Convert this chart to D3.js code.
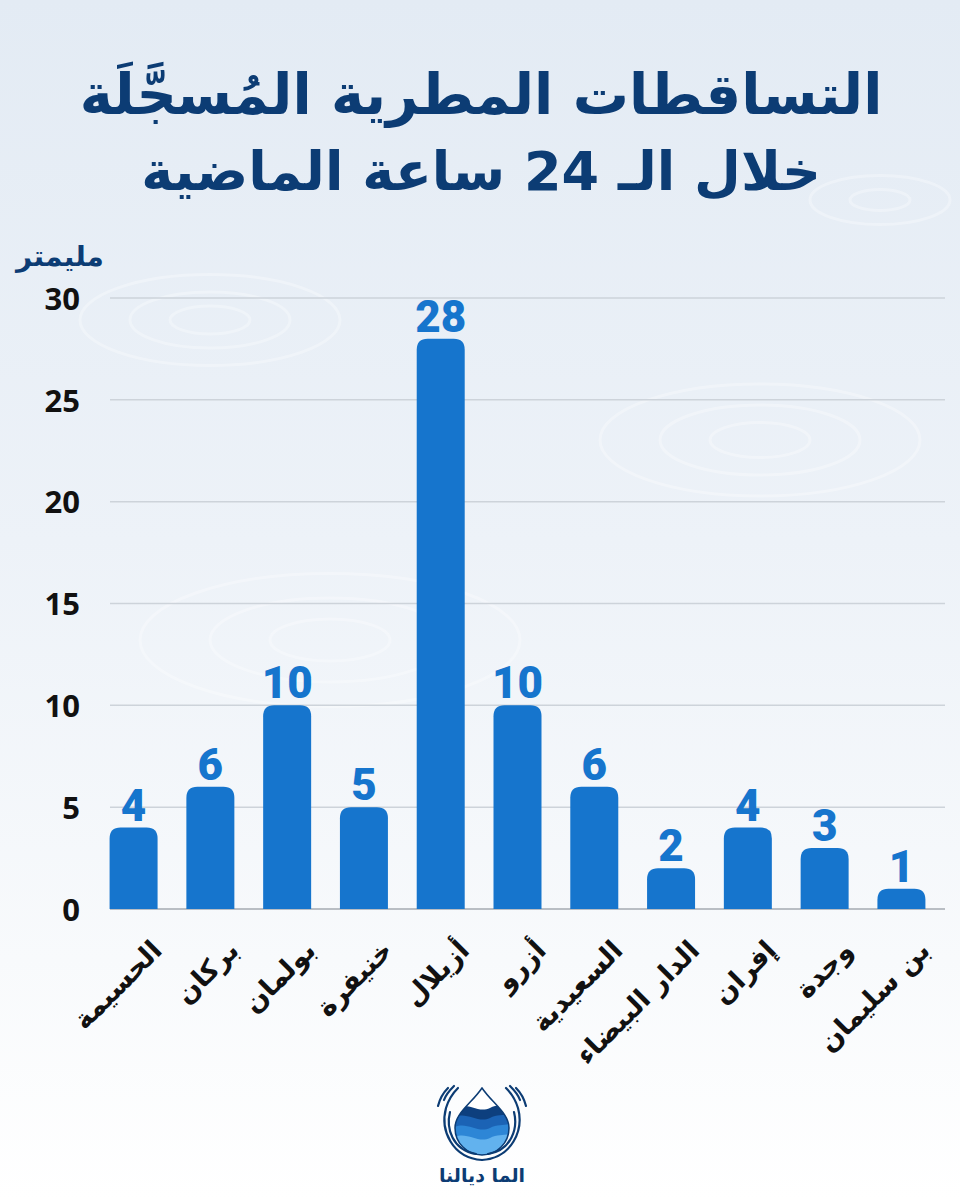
<!DOCTYPE html>
<html lang="ar">
<head>
<meta charset="utf-8">
<script src="https://cdn.jsdelivr.net/npm/d3@7"></script>
<style>
  html, body { margin: 0; padding: 0; background: #ffffff; }
  svg { display: block; }
</style>
</head>
<body>
<div id="chart"></div>
<script>
// rainfall over the last 24 hours, in mm
const cities = ["الحسيمة", "بركان", "بولمان", "خنيفرة", "أزيلال", "أزرو", "السعيدية", "الدار البيضاء", "إفران", "وجدة", "بن سليمان"];
const rainfall = [4, 6, 10, 5, 28, 10, 6, 2, 4, 3, 1];
const yTicks = [0, 5, 10, 15, 20, 25, 30];

const titleLines = ["التساقطات المطرية المُسجَّلَة", "خلال الـ 24 ساعة الماضية"];
const unitLabel = "مليمتر";
const brandName = "الما ديالنا";

window.onload = function() {
    const width = 960;
    const height = 1200;

    const navy = "#0c3c74";
    const barBlue = "#1675cd";

    const svg = d3.select("#chart")
        .append("svg")
        .attr("width", width)
        .attr("height", height);

    const defs = svg.append("defs");

    // background: pale blue fading to white
    const bg = defs.append("linearGradient")
        .attr("id", "bg")
        .attr("x1", 0).attr("y1", 0).attr("x2", 0).attr("y2", 1);
    bg.append("stop").attr("offset", "0%").attr("stop-color", "#e3ebf4");
    bg.append("stop").attr("offset", "45%").attr("stop-color", "#edf2f8");
    bg.append("stop").attr("offset", "80%").attr("stop-color", "#f8fafc");
    bg.append("stop").attr("offset", "100%").attr("stop-color", "#ffffff");

    svg.append("rect")
        .attr("width", width)
        .attr("height", height)
        .attr("fill", "url(#bg)");

    // faint ripples in the water
    const ripples = [
        {cx: 210, cy: 320, rx: [40, 80, 130]},
        {cx: 760, cy: 440, rx: [50, 100, 160]},
        {cx: 330, cy: 640, rx: [60, 120, 190]},
        {cx: 880, cy: 200, rx: [30, 70]}
    ];
    ripples.forEach(r => {
        svg.append("g").selectAll("ellipse")
            .data(r.rx)
            .enter()
            .append("ellipse")
            .attr("cx", r.cx)
            .attr("cy", r.cy)
            .attr("rx", d => d)
            .attr("ry", d => d * 0.35)
            .attr("fill", "none")
            .attr("stroke", "#ffffff")
            .attr("stroke-width", 3)
            .attr("opacity", 0.3);
    });

    // title
    svg.append("g")
        .selectAll("text")
        .data(titleLines)
        .enter()
        .append("text")
        .attr("x", 481)
        .attr("y", (d, i) => 114 + i * 76)
        .attr("text-anchor", "middle")
        .attr("font-family", "DejaVu Sans")
        .attr("font-weight", "bold")
        .attr("font-size", (d, i) => i === 0 ? 56 : 54)
        .attr("fill", navy)
        .text(d => d);

    // scales
    const x = d3.scaleBand()
        .domain(cities)
        .range([95, 940])
        .paddingInner(0.375)
        .paddingOuter(0.19);

    const y = d3.scaleLinear()
        .domain([0, 30])
        .range([909, 298]);

    // grid lines
    svg.append("g")
        .selectAll("line")
        .data(yTicks)
        .enter()
        .append("line")
        .attr("x1", 110)
        .attr("x2", 945)
        .attr("y1", d => y(d))
        .attr("y2", d => y(d))
        .attr("stroke", d => d === 0 ? "#b9bec4" : "#cdd3da")
        .attr("stroke-width", d => d === 0 ? 2 : 1.5);

    // y axis labels
    const yAxis = d3.axisLeft(y)
        .tickValues(yTicks)
        .tickSize(0)
        .tickPadding(0);
    const yG = svg.append("g")
        .attr("transform", "translate(80,0)")
        .call(yAxis);
    yG.select(".domain").remove();
    yG.selectAll("text")
        .attr("font-family", "Open Sans")
        .attr("font-weight", "bold")
        .attr("font-size", 31)
        .attr("fill", "#111111")
        .attr("dy", "0.36em");

    // unit label
    svg.append("text")
        .attr("x", 60)
        .attr("y", 266)
        .attr("text-anchor", "middle")
        .attr("font-family", "DejaVu Sans")
        .attr("font-weight", "bold")
        .attr("font-size", 28)
        .attr("fill", navy)
        .text(unitLabel);

    // bars with rounded tops
    const r = 11;
    function barPath(d, i) {
        const x0 = x(cities[i]);
        const w = x.bandwidth();
        const y0 = y(0);
        const y1 = y(d);
        const rr = Math.min(r, (y0 - y1));
        return `M${x0},${y0} V${y1 + rr} Q${x0},${y1} ${x0 + rr},${y1} H${x0 + w - rr} Q${x0 + w},${y1} ${x0 + w},${y1 + rr} V${y0} Z`;
    }

    svg.append("g")
        .selectAll("path")
        .data(rainfall)
        .enter()
        .append("path")
        .attr("d", barPath)
        .attr("fill", barBlue);

    // value labels
    svg.append("g")
        .selectAll("text")
        .data(rainfall)
        .enter()
        .append("text")
        .attr("x", (d, i) => x(cities[i]) + x.bandwidth() / 2)
        .attr("y", d => y(d) - 7)
        .attr("text-anchor", "middle")
        .attr("font-family", "Roboto")
        .attr("font-weight", "900")
        .attr("font-size", 44)
        .attr("fill", barBlue)
        .text(d => d);

    // city names, rotated
    svg.append("g")
        .selectAll("text")
        .data(cities)
        .enter()
        .append("text")
        .attr("transform", d => `translate(${x(d) + x.bandwidth() / 2 + 30},952) rotate(-45)`)
        .attr("text-anchor", "end")
        .attr("font-family", "DejaVu Sans")
        .attr("font-weight", "bold")
        .attr("font-size", 27)
        .attr("fill", "#111111")
        .text(d => d);

    // logo: a water drop held by two hands
    const logo = svg.append("g").attr("transform", "translate(482,0)");
    const dropPath = "M0,1088 C-10,1103 -27,1113 -27,1128 A27,27 0 0 0 27,1128 C27,1113 10,1103 0,1088 Z";
    defs.append("clipPath").attr("id", "dropClip")
        .append("path").attr("d", dropPath);

    const waves = logo.append("g").attr("clip-path", "url(#dropClip)");
    waves.append("rect")
        .attr("x", -30).attr("y", 1085).attr("width", 60).attr("height", 75)
        .attr("fill", "#ffffff");
    const waveColors = ["#0d3f7e", "#1b63b5", "#2d86d6", "#62b2ee"];
    waves.selectAll("path")
        .data(waveColors)
        .enter()
        .append("path")
        .attr("d", (c, i) => {
            const yy = 1108 + i * 10;
            return `M-30,${yy} C-15,${yy - 8} -5,${yy + 6} 8,${yy} C16,${yy - 4} 24,${yy - 2} 30,${yy - 5} V1160 H-30 Z`;
        })
        .attr("fill", d => d);

    logo.append("path")
        .attr("d", dropPath)
        .attr("fill", "none")
        .attr("stroke", navy)
        .attr("stroke-width", 1.5);

    // hand strokes on both sides
    const handArcs = [
        "M0,1160 C-30,1158 -42,1130 -36,1108 C-33,1098 -28,1092 -24,1088",
        "M-6,1154 C-30,1150 -36,1128 -32,1112",
        "M-38,1100 C-36,1094 -32,1090 -28,1086",
        "M-44,1106 C-42,1098 -38,1092 -34,1088"
    ];
    [1, -1].forEach(s => {
        logo.append("g")
            .attr("transform", `scale(${s},1)`)
            .selectAll("path")
            .data(handArcs)
            .enter()
            .append("path")
            .attr("d", d => d)
            .attr("fill", "none")
            .attr("stroke", navy)
            .attr("stroke-width", 2.2)
            .attr("stroke-linecap", "round");
    });

    svg.append("text")
        .attr("x", 482)
        .attr("y", 1182)
        .attr("text-anchor", "middle")
        .attr("font-family", "DejaVu Sans")
        .attr("font-weight", "bold")
        .attr("font-size", 19)
        .attr("fill", navy)
        .text(brandName);
};
</script>
</body>
</html>
